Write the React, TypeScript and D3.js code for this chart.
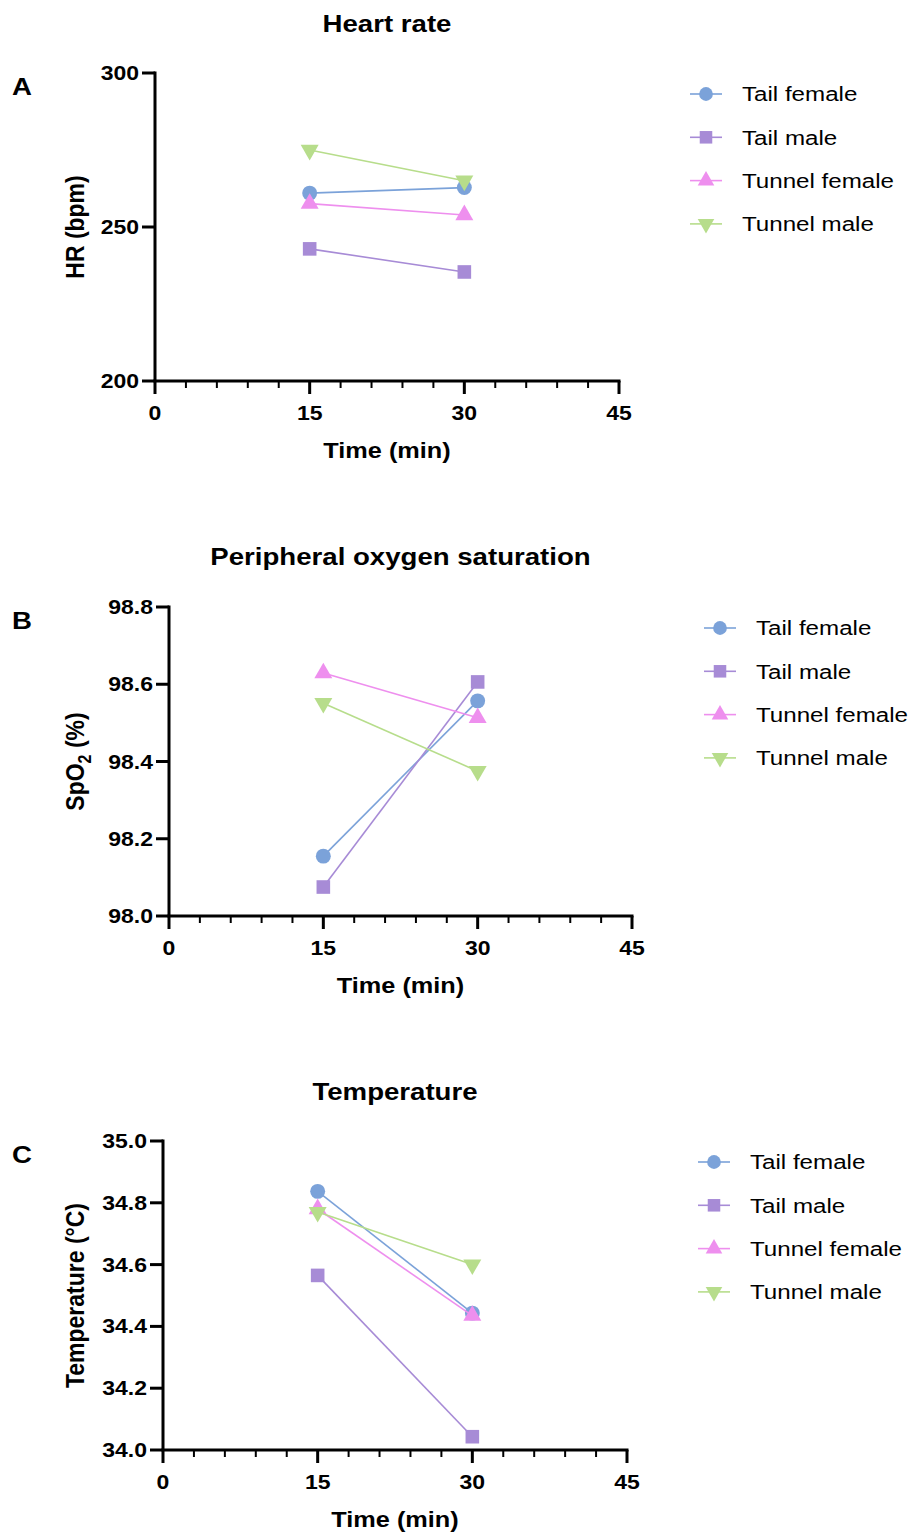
import * as d3 from 'd3';

// time points (min)
const times = [15, 30];
const xTicks = [0, 15, 30, 45];
const xMinorTicks = d3.range(0, 46, 3);

const seriesNames = ['Tail female', 'Tail male', 'Tunnel female', 'Tunnel male'];
const seriesColors = ['#7BA2D9', '#A78BD6', '#EE8FEE', '#B7DD8B'];
const seriesShapes = ['circle', 'square', 'triangle', 'triangleDown'];

// values, one row per series, [15 min, 30 min]
const hrValues = [
  [261, 262.8],
  [242.9, 235.4],
  [257.6, 253.9],
  [275, 265],
];
const spo2Values = [
  [98.155, 98.557],
  [98.075, 98.606],
  [98.629, 98.513],
  [98.551, 98.375],
];
const tempValues = [
  [34.837, 34.443],
  [34.565, 34.043],
  [34.78, 34.435],
  [34.77, 34.6],
];

const hrTicks = [200, 250, 300];
const spo2Ticks = [98.0, 98.2, 98.4, 98.6, 98.8];
const tempTicks = [34.0, 34.2, 34.4, 34.6, 34.8, 35.0];

const FONT = '"Liberation Sans", Arial, Helvetica, sans-serif';
const SX = 1.15; // figure text is a bit wider than Arial

const symbolFor = (shape: string, size: number) => {
  const type =
    shape === 'circle' ? d3.symbolCircle : shape === 'square' ? d3.symbolSquare : d3.symbolTriangle;
  return d3.symbol().type(type).size(size)() as string;
};

const markerSize = (shape: string, k = 1) =>
  (shape === 'circle' ? 175 : shape === 'square' ? 185 : 140) * k;

const Txt = ({ x, y, size, bold = true, anchor = 'start', rotate = 0, sx = SX, children }: any) => (
  <text
    transform={`translate(${x},${y}) scale(${sx},1)${rotate ? ` rotate(${rotate})` : ''}`}
    fontFamily={FONT}
    fontSize={size}
    fontWeight={bold ? 'bold' : 'normal'}
    textAnchor={anchor}
    dy="0.35em"
    fill="#000"
  >
    {children}
  </text>
);

const Marker = ({ shape, color, x, y, size }: any) => (
  <path
    d={symbolFor(shape, size)}
    transform={`translate(${x},${y})${shape === 'triangleDown' ? ' rotate(180)' : ''}`}
    fill={color}
  />
);

const Panel = ({ title, letter, top, x0, x1, y0, y1, values, yDomain, yTicks, yFmt, yLabel, legendX }: any) => {
  const x = d3.scaleLinear().domain([0, 45]).range([x0, x1]);
  const y = d3.scaleLinear().domain(yDomain).range([y0, y1]);
  const line = d3
    .line<number>()
    .x((_, i) => x(times[i]))
    .y((d) => y(d));
  const fmt = d3.format(yFmt);
  return (
    <g>
      <Txt x={(x0 + x1) / 2} y={top} size={24} anchor="middle">
        {title}
      </Txt>
      <Txt x={12} y={y1 + 14} size={24}>
        {letter}
      </Txt>
      <Txt x={75} y={(y0 + y1) / 2} size={23} anchor="middle" rotate={-90}>
        {yLabel}
      </Txt>

      {/* y axis */}
      <line x1={x0} x2={x0} y1={y1 - 1.5} y2={y0} stroke="#000" strokeWidth={3} />
      {yTicks.map((t: number) => (
        <g key={t}>
          <line x1={x0 - 13} x2={x0} y1={y(t)} y2={y(t)} stroke="#000" strokeWidth={3} />
          <Txt x={x0 - 16} y={y(t)} size={20} anchor="end">
            {fmt(t)}
          </Txt>
        </g>
      ))}

      {/* x axis */}
      <line x1={x0 - 1.5} x2={x1 + 1.5} y1={y0} y2={y0} stroke="#000" strokeWidth={3} />
      {xMinorTicks.map((t: number) => (
        <line
          key={t}
          x1={x(t)}
          x2={x(t)}
          y1={y0}
          y2={y0 + (xTicks.includes(t) ? 13 : 7)}
          stroke="#000"
          strokeWidth={xTicks.includes(t) ? 3 : 2}
        />
      ))}
      {xTicks.map((t: number) => (
        <Txt key={t} x={x(t)} y={y0 + 32} size={20} anchor="middle">
          {t}
        </Txt>
      ))}
      <Txt x={(x0 + x1) / 2} y={y0 + 69} size={22} anchor="middle">
        Time (min)
      </Txt>

      {/* series */}
      {values.map((vals: number[], i: number) => (
        <g key={i}>
          <path d={line(vals) as string} fill="none" stroke={seriesColors[i]} strokeWidth={1.6} />
          {vals.map((v, j) => (
            <Marker
              key={j}
              shape={seriesShapes[i]}
              color={seriesColors[i]}
              x={x(times[j])}
              y={y(v)}
              size={markerSize(seriesShapes[i])}
            />
          ))}
        </g>
      ))}

      {/* legend */}
      {seriesNames.map((name, i) => {
        const ly = y1 + 21 + i * 43.3;
        return (
          <g key={name}>
            <line x1={legendX} x2={legendX + 32} y1={ly} y2={ly} stroke={seriesColors[i]} strokeWidth={1.6} />
            <Marker
              shape={seriesShapes[i]}
              color={seriesColors[i]}
              x={legendX + 16}
              y={ly}
              size={markerSize(seriesShapes[i], 0.85)}
            />
            <Txt x={legendX + 52} y={ly} size={21} bold={false}>
              {name}
            </Txt>
          </g>
        );
      })}
    </g>
  );
};

export default function App() {
  return (
    <svg width={914} height={1536} style={{ position: 'absolute', left: 0, top: 0, background: '#fff' }}>
      <rect width={914} height={1536} fill="#fff" />
      <Panel
        title="Heart rate"
        letter="A"
        top={24}
        x0={155}
        x1={619}
        y0={381}
        y1={73}
        values={hrValues}
        yDomain={[200, 300]}
        yTicks={hrTicks}
        yFmt="d"
        yLabel="HR (bpm)"
        legendX={690}
      />
      <Panel
        title="Peripheral oxygen saturation"
        letter="B"
        top={557}
        x0={169}
        x1={632}
        y0={916}
        y1={607}
        values={spo2Values}
        yDomain={[98.0, 98.8]}
        yTicks={spo2Ticks}
        yFmt=".1f"
        yLabel={
          <>
            SpO
            <tspan fontSize={16} dy={6}>
              2
            </tspan>
            <tspan dy={-6}> (%)</tspan>
          </>
        }
        legendX={704}
      />
      <Panel
        title="Temperature"
        letter="C"
        top={1092}
        x0={163}
        x1={627}
        y0={1450}
        y1={1141}
        values={tempValues}
        yDomain={[34.0, 35.0]}
        yTicks={tempTicks}
        yFmt=".1f"
        yLabel="Temperature (°C)"
        legendX={698}
      />
    </svg>
  );
}
